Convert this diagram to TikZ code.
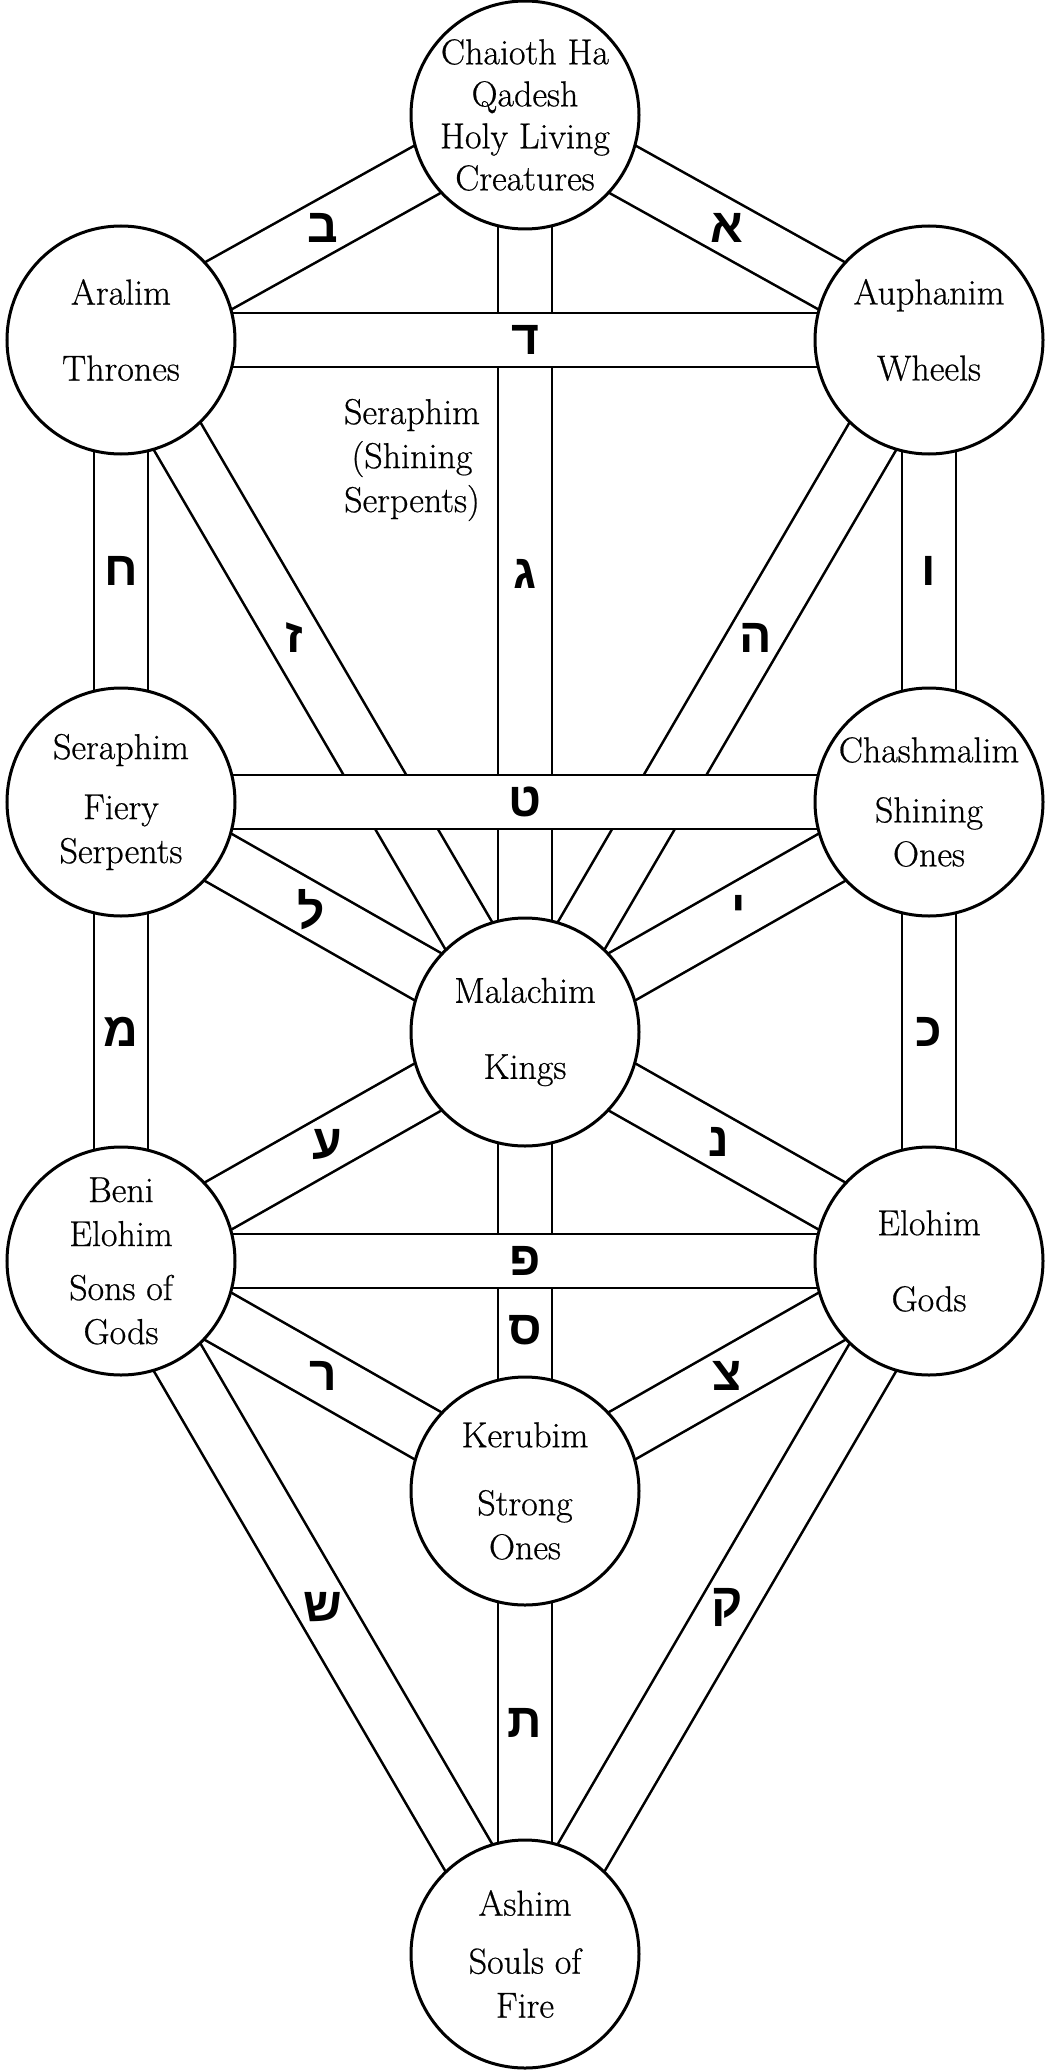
\documentclass[tikz,border=0pt]{standalone}
\usepackage{fontspec}
\newfontfamily\hebfont[Script=Hebrew]{Liberation Sans}
\newfontfamily\namefont{Latin Modern Roman}[FakeBold=0.6]
\pgfdeclarelayer{background}
\pgfsetlayers{background,main}
\begin{document}
\begin{tikzpicture}[x=0.5pt, y=-0.5pt,
		sefira/.style={circle, draw, line width=1.5pt, fill=white, minimum size=114pt, inner sep=0pt},
		sefname/.style={align=center, font=\namefont\fontsize{18}{22}\selectfont, inner sep=0pt},
		pathway/.style={double, double distance=25.7pt, line width=1.3pt},
		letter/.style={font=\hebfont\bfseries\fontsize{24}{24}\selectfont, inner sep=0pt}]
		\useasboundingbox (0,0) rectangle (1045,2070);
		% the ten circles
		\foreach \n/\x/\y in {kether/525/115, chokmah/929/340, binah/121/340, chesed/929/802, geburah/121/802, tiphareth/525/1032, netzach/929/1261, hod/121/1261, yesod/525/1491, malkuth/525/1954}
			\node[sefira] (\n) at (\x,\y) {};
		% the 22 paths, the horizontal ones last so they lie on top
		\begin{pgfonlayer}{background}
		\fill[white] (0,0) rectangle (1045,2070);
		\foreach \a/\b/\l/\p in {kether/binah/ב/0.5, kether/chokmah/א/0.5, kether/tiphareth/ג/0.5, chokmah/tiphareth/ה/0.43, chokmah/chesed/ו/0.5, binah/tiphareth/ז/0.43, binah/geburah/ח/0.5, chesed/tiphareth/י/0.47, chesed/netzach/כ/0.5, geburah/tiphareth/ל/0.47, geburah/hod/מ/0.5, tiphareth/netzach/נ/0.48, tiphareth/yesod/ס/0.65, tiphareth/hod/ע/0.49, netzach/yesod/צ/0.5, netzach/malkuth/ק/0.5, hod/yesod/ר/0.5, hod/malkuth/ש/0.5, yesod/malkuth/ת/0.5, binah/chokmah/ד/0.5, geburah/chesed/ט/0.5, hod/netzach/פ/0.5}
			\draw[pathway] (\a.center) -- (\b.center) node[letter, pos=\p] (\a-\b) {\l};
		\end{pgfonlayer}
		% names
		\node[sefname] (kether-name) at (kether) {Chaioth Ha\\[-1pt]Qadesh\\[-1pt]Holy Living\\[-1pt]Creatures};
		\node[sefname] (chokmah-name) at ([yshift=5pt]chokmah) {Auphanim\\[16pt]Wheels};
		\node[sefname] (binah-name) at ([yshift=5pt]binah) {Aralim\\[16pt]Thrones};
		\node[sefname] (chesed-name) at (chesed) {Chashmalim\\[8pt]Shining\\Ones};
		\node[sefname] (geburah-name) at (geburah) {Seraphim\\[8pt]Fiery\\Serpents};
		\node[sefname] (tiphareth-name) at (tiphareth) {Malachim\\[16pt]Kings};
		\node[sefname] (netzach-name) at (netzach) {Elohim\\[16pt]Gods};
		\node[sefname] (hod-name) at (hod) {Beni\\Elohim\\[5pt]Sons of\\Gods};
		\node[sefname] (yesod-name) at (yesod) {Kerubim\\[12pt]Strong\\Ones};
		\node[sefname] (malkuth-name) at (malkuth) {Ashim\\[7pt]Souls of\\Fire};
		\node[sefname] (daath) at (412,460) {Seraphim\\(Shining\\Serpents)};
	\end{tikzpicture}
\end{document}
